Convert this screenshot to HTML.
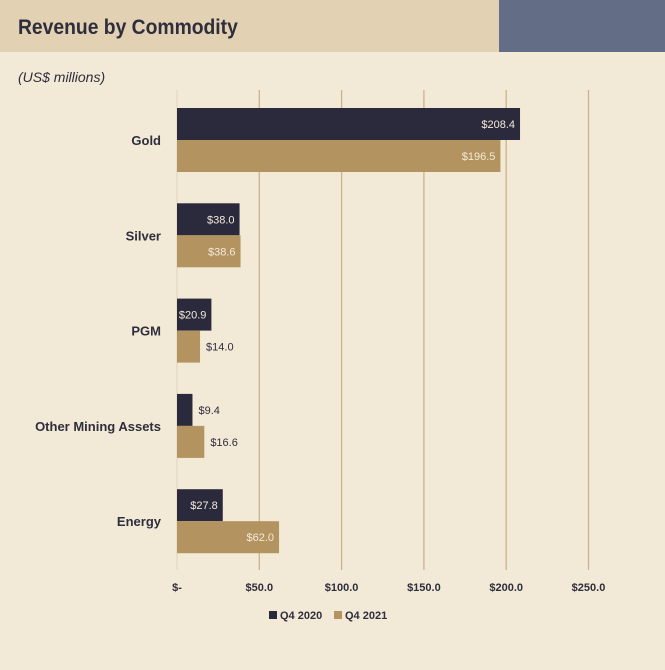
<!DOCTYPE html>
<html><head><meta charset="utf-8"><style>
body{margin:0;width:665px;height:665px;background:#f3e9d7;font-family:"Liberation Sans",sans-serif;overflow:hidden}
</style></head><body>
<svg width="665" height="665" xmlns="http://www.w3.org/2000/svg">
<rect x="0" y="0" width="665" height="665" fill="#f3e9d7"/>
<rect x="0" y="0" width="499" height="52" fill="#e3d1b4"/>
<rect x="499" y="0" width="166" height="52" fill="#636d86"/>
<text x="18" y="34" font-size="21" font-weight="bold" fill="#2e2e3c" transform="translate(18,0) scale(0.92,1) translate(-18,0)">Revenue by Commodity</text>
<text x="18" y="82" font-size="14" font-style="italic" fill="#2e2e3c">(US$ millions)</text>
<g id="grid"></g><g id="bars"></g><g id="labels"></g>
<g>
<rect x="269" y="611" width="8" height="8" fill="#2a2a3c"/>
<text x="280" y="619" font-size="11" font-weight="bold" fill="#2e2e3c">Q4 2020</text>
<rect x="334" y="611" width="8" height="8" fill="#b39460"/>
<text x="345" y="619" font-size="11" font-weight="bold" fill="#2e2e3c">Q4 2021</text>
</g>
</svg>
<script>
const categories=["Gold","Silver","PGM","Other Mining Assets","Energy"];
const q42020=[208.4,38.0,20.9,9.4,27.8];
const q42021=[196.5,38.6,14.0,16.6,62.0];
const ticks=[0,50,100,150,200,250];
const tickLabels=["$-","$50.0","$100.0","$150.0","$200.0","$250.0"];
const SVGNS="http://www.w3.org/2000/svg";
const X0=177,PX_PER=82.3/50,Y_TOP=90,Y_BOTTOM=570,GROUP_H=95.3,FIRST_C=140,BAR_H=32;
const xs=v=>X0+v*PX_PER;
const yc=i=>FIRST_C+i*GROUP_H;
function mk(tag,attrs,parent){const e=document.createElementNS(SVGNS,tag);for(const k in attrs)e.setAttribute(k,attrs[k]);document.getElementById(parent).appendChild(e);return e;}
ticks.forEach((t,i)=>{
 const l=mk('line',{x1:xs(t),x2:xs(t),y1:Y_TOP,y2:Y_BOTTOM,stroke:i==0?'#e4d8c2':'#c9b48e','stroke-width':1.3},'grid');
 
 
 const tx=mk('text',{x:xs(t),y:591,'font-size':11,'font-weight':'bold','text-anchor':'middle',fill:'#2e2e3c'},'grid');
 tx.textContent=tickLabels[i];
 
 
});
function fmt(v){return '$'+v.toFixed(1);}
categories.forEach((c,i)=>{
 const cy=yc(i);
 const ct=mk('text',{x:161,y:cy+5,'font-size':13,'font-weight':'bold','text-anchor':'end',fill:'#2e2e3c'},'labels');
 ct.textContent=c;
 
 
 [[q42020,'#2a2a3c',cy-BAR_H,'q4-2020'],[q42021,'#b39460',cy,'q4-2021']].forEach(([arr,col,y,key])=>{
  const v=arr[i],w=xs(v)-X0;
  const r=mk('rect',{x:X0,y:y,width:w,height:BAR_H,fill:col},'bars');
  
  
  const inside=w>=32;
  const t=mk('text',{x:inside?xs(v)-5:xs(v)+6,y:y+BAR_H/2+4,'font-size':11,'text-anchor':inside?'end':'start',fill:inside?'#f3ead8':'#2e2e3c'},'labels');
  t.textContent=fmt(v);
  
  
 });
});
</script>
</body></html>
